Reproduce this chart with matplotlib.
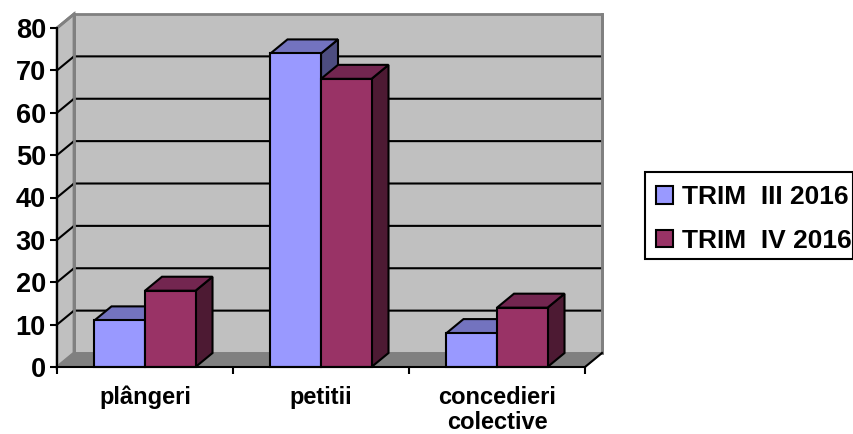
import matplotlib
matplotlib.use('Agg')
import matplotlib.pyplot as plt
from matplotlib.patches import Polygon, Patch, Rectangle

plt.rcParams['font.family'] = ['Liberation Sans', 'DejaVu Sans']
plt.rcParams['font.weight'] = 'bold'

categorii = ['plângeri', 'petitii', 'concedieri\ncolective']
trim3 = [11, 74, 8]
trim4 = [18, 68, 14]
serii = ['TRIM  III 2016', 'TRIM  IV 2016']
yticks = [0, 10, 20, 30, 40, 50, 60, 70, 80]

W, H = 854, 434
fig = plt.figure(figsize=(W/100, H/100), dpi=100)
# axa din fata: x 57..585 px, y 28..367 px
ax = fig.add_axes([57/W, 1-367/H, 528/W, 339/H])
ax.set_xlim(0, 3)
ax.set_ylim(0, 80)
ax.patch.set_visible(False)

# adancimea 3D in unitati de date
dx = 17/176
dy = 14/(339/80)
bw = 0.287


def poly(pts, fc, ec='k', lw=1.5, z=2):
    ax.add_patch(Polygon(pts, closed=True, fc=fc, ec=ec, lw=lw, zorder=z,
                         clip_on=False, joinstyle='miter'))


# pereti
poly([(dx, dy), (3+dx, dy), (3+dx, 80+dy), (dx, 80+dy)], '#C0C0C0', '#808080', 2, 1)
poly([(0, 0), (dx, dy), (dx, 80+dy), (0, 80)], '#C0C0C0', '#808080', 2, 1)
poly([(0, 0), (3, 0), (3+dx, dy), (dx, dy)], '#808080', '#808080', 1, 1)

# linii de grila
for v in yticks[1:-1]:
    ax.plot([0, dx, 3+dx], [v, v+dy, v+dy], color='k', lw=1.5, zorder=1.5, clip_on=False)
ax.plot([0, dx], [80, 80+dy], color='#808080', lw=2, zorder=1.5, clip_on=False)
# marginile peretilor peste grila
ax.plot([dx, dx], [dy, 80+dy], color='#808080', lw=2, zorder=1.6, clip_on=False)
ax.plot([3+dx, 3+dx], [dy, 80+dy], color='#808080', lw=2, zorder=1.6, clip_on=False)
ax.plot([3, 3+dx], [0, dy], color='k', lw=1.5, zorder=1.6, clip_on=False)


def bara(x0, v, fata, sus, lateral, z):
    x1 = x0+bw
    poly([(x1, 0), (x1+dx, dy), (x1+dx, v+dy), (x1, v)], lateral, z=z)
    poly([(x0, v), (x0+dx, v+dy), (x1+dx, v+dy), (x1, v)], sus, z=z)
    poly([(x0, 0), (x1, 0), (x1, v), (x0, v)], fata, z=z)


for i in range(3):
    bara(i+0.5-bw, trim3[i], '#9999FF', '#7373BF', '#4D4D80', 3+i)
    bara(i+0.5, trim4[i], '#993366', '#732650', '#4D1A33', 3.5+i)

# axe
for s in ['top', 'right']:
    ax.spines[s].set_visible(False)
for s in ['left', 'bottom']:
    ax.spines[s].set_linewidth(1.5)
    ax.spines[s].set_zorder(10)
ax.set_yticks(yticks)
ax.set_yticklabels([str(v) for v in yticks], fontsize=19.5, fontweight='bold')
ax.set_xticks([0, 1, 2, 3])
ax.set_xticklabels([])
ax.tick_params(axis='both', width=1.5, length=5, color='k')
ax.tick_params(axis='y', pad=3)
for i, c in enumerate(categorii):
    ax.text(i+0.5, -4.4, c, ha='center', va='top', fontsize=17, fontweight='bold',
            linespacing=1.15)

# legenda - chenarul separat, textul sta mai jos decat centrul lui
fig.add_artist(Rectangle((645/W, 1-259/H), 208.5/W, 87/H, transform=fig.transFigure,
                         fc='white', ec='k', lw=1.5))
handles = [Patch(fc='#9999FF', ec='k', lw=1.5), Patch(fc='#993366', ec='k', lw=1.5)]
leg = fig.legend(handles, serii, loc='upper left', bbox_to_anchor=(645/W, 1-174/H),
                 borderaxespad=0, handlelength=0.64, handleheight=0.64,
                 handletextpad=0.36, labelspacing=0.74, borderpad=0.42, frameon=False,
                 prop={'family': 'Liberation Sans', 'weight': 'bold', 'size': 19})

fig.savefig('out.png', dpi=100)
